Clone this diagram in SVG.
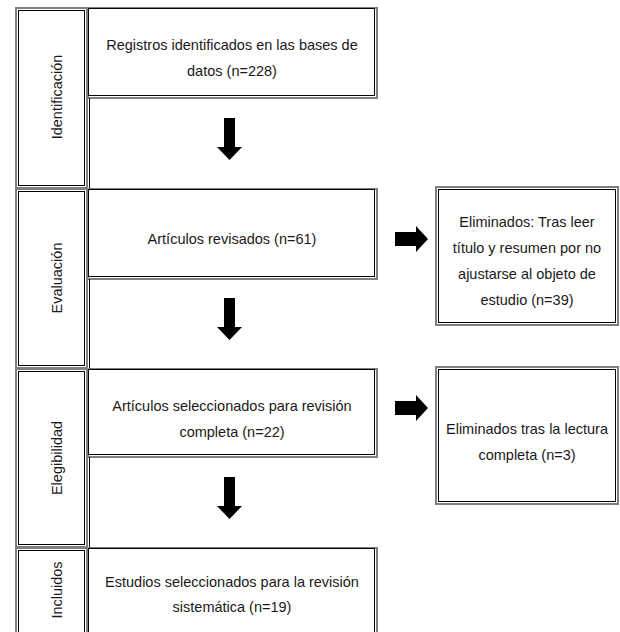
<svg xmlns="http://www.w3.org/2000/svg" width="620" height="632" viewBox="0 0 620 632">
<defs>
<style>
.o{fill:none;stroke:#7f7f7f;stroke-width:2}
.i{fill:none;stroke:#000;stroke-width:1}
.t{font-family:"Liberation Sans",Arial,sans-serif;font-size:14.5px;fill:#1a1a1a;text-anchor:middle}
.a{fill:#000}
</style>
</defs>
<rect width="620" height="632" fill="#fff"/>
<g id="label-identificacion">
<rect class="o" x="16" y="8" width="71" height="180"/>
<rect class="i" x="18.5" y="10.5" width="66" height="175"/>
<text class="t" transform="translate(62,97) rotate(-90)">Identificación</text>
</g>
<g id="label-evaluacion">
<rect class="o" x="16" y="189" width="71" height="179"/>
<rect class="i" x="18.5" y="191.5" width="66" height="174"/>
<text class="t" transform="translate(62,278) rotate(-90)">Evaluación</text>
</g>
<g id="label-elegibilidad">
<rect class="o" x="16" y="369" width="71" height="178"/>
<rect class="i" x="18.5" y="371.5" width="66" height="173"/>
<text class="t" transform="translate(62,458) rotate(-90)">Elegibilidad</text>
</g>
<g id="label-incluidos">
<rect class="o" x="16" y="548" width="71" height="100"/>
<rect class="i" x="18.5" y="550.5" width="66" height="95"/>
<text class="t" transform="translate(62,590) rotate(-90)">Incluidos</text>
</g>
<g id="box-registros">
<rect class="o" x="88" y="8" width="289" height="90"/>
<rect class="i" x="88.5" y="8.5" width="286" height="87"/>
<text class="t" x="232" y="50">Registros identificados en las bases de</text>
<text class="t" x="232" y="76">datos (n=228)</text>
</g>
<g id="box-revisados">
<rect class="o" x="88" y="189" width="289" height="90"/>
<rect class="i" x="88.5" y="189.5" width="286" height="87"/>
<text class="t" x="232" y="244">Artículos revisados (n=61)</text>
</g>
<g id="box-seleccionados">
<rect class="o" x="88" y="369" width="289" height="88"/>
<rect class="i" x="88.5" y="369.5" width="286" height="85"/>
<text class="t" x="232" y="411">Artículos seleccionados para revisión</text>
<text class="t" x="232" y="437">completa (n=22)</text>
</g>
<g id="box-incluidos">
<rect class="o" x="88" y="548" width="289" height="100"/>
<rect class="i" x="88.5" y="548.5" width="286" height="97"/>
<text class="t" x="232" y="587">Estudios seleccionados para la revisión</text>
<text class="t" x="232" y="612">sistemática (n=19)</text>
</g>
<g id="box-eliminados-1">
<rect class="o" x="436" y="187" width="182" height="138"/>
<rect class="i" x="438.5" y="189.5" width="177" height="133"/>
<text class="t" x="527" y="227">Eliminados: Tras leer</text>
<text class="t" x="527" y="253">título y resumen por no</text>
<text class="t" x="527" y="279">ajustarse al objeto de</text>
<text class="t" x="527" y="305">estudio (n=39)</text>
</g>
<g id="box-eliminados-2">
<rect class="o" x="436" y="367" width="182" height="137"/>
<rect class="i" x="438.5" y="369.5" width="177" height="132"/>
<text class="t" x="527" y="434">Eliminados tras la lectura</text>
<text class="t" x="527" y="460">completa (n=3)</text>
</g>
<g id="connectors">
<line class="i" x1="89.5" y1="98" x2="89.5" y2="188"/>
<line class="i" x1="89.5" y1="279" x2="89.5" y2="368"/>
<line class="i" x1="89.5" y1="457" x2="89.5" y2="547"/>
<polygon class="a" points="224,118 235,118 235,147 242,147 229.5,160 217,147 224,147"/>
<polygon class="a" points="224,298 235,298 235,327 242,327 229.5,340 217,327 224,327"/>
<polygon class="a" points="224,477 235,477 235,506 242,506 229.5,519 217,506 224,506"/>
<polygon class="a" points="395,232 416,232 416,226 428,239 416,252 416,246 395,246"/>
<polygon class="a" points="395,401 416,401 416,395 428,408 416,421 416,415 395,415"/>
</g>
</svg>
